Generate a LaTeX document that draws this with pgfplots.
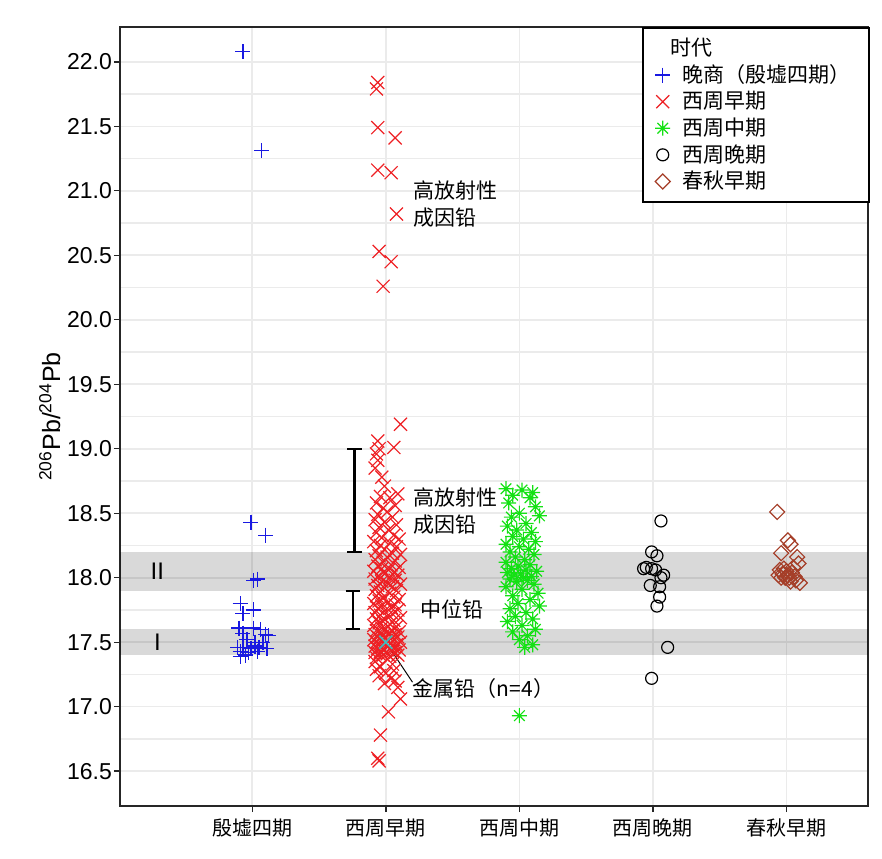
\documentclass[border=0pt]{standalone}
\usepackage{pgfplots}
\pgfplotsset{compat=1.18}
\usepackage{fontspec}
\setmainfont{Liberation Sans}
\newfontfamily\cjk{Noto Sans CJK SC}
\definecolor{cblue}{RGB}{25,25,225}
\definecolor{cred}{RGB}{238,32,36}
\definecolor{cgreen}{RGB}{20,225,20}
\definecolor{cbrown}{RGB}{165,62,40}
\definecolor{ccyan}{RGB}{64,190,190}
\definecolor{cgrid}{RGB}{235,235,235}
\pgfdeclareplotmark{ast8}{%
 \pgfpathmoveto{\pgfqpoint{-\pgfplotmarksize}{0pt}}\pgfpathlineto{\pgfqpoint{\pgfplotmarksize}{0pt}}%
 \pgfpathmoveto{\pgfqpoint{0pt}{-\pgfplotmarksize}}\pgfpathlineto{\pgfqpoint{0pt}{\pgfplotmarksize}}%
 \pgfpathmoveto{\pgfqpoint{-.7071\pgfplotmarksize}{-.7071\pgfplotmarksize}}\pgfpathlineto{\pgfqpoint{.7071\pgfplotmarksize}{.7071\pgfplotmarksize}}%
 \pgfpathmoveto{\pgfqpoint{-.7071\pgfplotmarksize}{.7071\pgfplotmarksize}}\pgfpathlineto{\pgfqpoint{.7071\pgfplotmarksize}{-.7071\pgfplotmarksize}}%
 \pgfusepathqstroke}
\begin{document}
\begin{tikzpicture}
\begin{axis}[
 scale only axis, width=374pt, height=389.5pt,
 xmin=-0.99, xmax=4.61, ymin=16.23, ymax=22.27,
 xtick={0,1,2,3,4},
 xticklabels={殷墟四期,西周早期,西周中期,西周晚期,春秋早期},
 xticklabel style={font=\cjk\fontsize{10}{12}\selectfont},
 ytick={16.5,17,17.5,18,18.5,19,19.5,20,20.5,21,21.5,22},
 yticklabels={16.5,17.0,17.5,18.0,18.5,19.0,19.5,20.0,20.5,21.0,21.5,22.0},
 yticklabel style={font=\fontsize{11.5}{13}\selectfont, xshift=2.5pt},
 minor y tick num=1,
 grid=both,
 major grid style={cgrid, line width=0.8pt},
 minor grid style={cgrid, line width=0.6pt},
 axis line style={black!85, line width=0.7pt},
 tick style={black!85, line width=0.7pt},
 major tick length=3pt, minor tick length=0pt,
 tick align=outside, xtick pos=lower, ytick pos=left,
 ylabel={\textsuperscript{206}Pb/\textsuperscript{204}Pb},
 ylabel style={font=\fontsize{12.5}{14}\selectfont, yshift=-3.5pt},
 legend style={at={(1.003,1)}, anchor=north east, draw=black, line width=1pt,
   font=\cjk\fontsize{10.5}{12}\selectfont, row sep=-1pt, column sep=4pt, inner xsep=1.5pt, inner ysep=3pt},
 legend cell align=left,
]
\fill[black, opacity=0.15] (-0.99,17.4) rectangle (4.61,17.6);
\fill[black, opacity=0.15] (-0.99,17.9) rectangle (4.61,18.2);
\addlegendimage{empty legend}\addlegendentry{\hspace*{-6pt}时代\rule[-5pt]{0pt}{5pt}}
\addplot[only marks, mark=+, mark size=3.75pt, cblue, line width=0.65pt] coordinates {
(-0.07,22.08) (0.07,21.31) (-0.01,18.43) (0.10,18.33) (0.01,17.98) (0.04,17.99)
(-0.09,17.80) (-0.07,17.72) (0.01,17.75) (-0.10,17.61) (0.01,17.61) (0.06,17.60)
(-0.07,17.57) (0.10,17.56) (0.12,17.55) (-0.04,17.52) (0.02,17.50) (-0.11,17.46)
(-0.07,17.46) (-0.01,17.45) (0.05,17.46) (0.11,17.45) (-0.09,17.43) (-0.03,17.42)
(0.04,17.43) (0.08,17.50) (-0.09,17.39) (-0.05,17.40) (0.02,17.47)
};
\addlegendentry{晚商（殷墟四期）\hspace*{6pt}}
\addplot[only marks, mark=x, mark size=4.6pt, cred, line width=0.6pt] coordinates {
(0.94,21.84) (0.93,21.79) (0.94,21.49) (1.07,21.41) (0.94,21.16) (1.04,21.14) (1.08,20.82) (0.95,20.53) (1.04,20.45) (0.98,20.26)
(1.11,19.19) (0.94,19.06) (1.06,19.01) (0.95,19.00) (0.93,18.96) (0.94,18.91) (0.92,18.85) (0.97,18.78) (0.99,18.71) (1.09,18.65)
(0.96,18.63) (1.03,18.62) (0.93,18.58) (1.07,18.56) (0.98,18.54) (1.01,18.51) (0.94,18.49) (1.05,18.47) (0.92,18.45) (0.99,18.43)
(1.08,18.41) (0.95,18.39) (1.02,18.37) (0.93,18.35) (1.06,18.33) (0.97,18.31) (1.10,18.30) (0.91,18.28) (1.03,18.27) (0.96,18.25)
(1.08,18.24) (0.99,18.22) (0.93,18.21) (1.05,18.19) (1.11,18.18) (0.95,18.17) (1.01,18.16) (0.92,18.14) (1.07,18.13) (0.98,18.12)
(1.04,18.10) (0.94,18.09) (1.10,18.08) (0.97,18.07) (1.02,18.06) (0.91,18.05) (1.06,18.04) (0.99,18.03) (1.09,18.02) (0.95,18.01)
(1.03,18.00) (0.92,17.99) (1.07,17.98) (0.97,17.97) (1.01,17.96) (1.11,17.95) (0.94,17.94) (1.05,17.93) (0.99,17.92) (0.92,17.91)
(1.08,17.90) (0.96,17.89) (1.03,17.88) (0.93,17.86) (1.06,17.85) (0.98,17.84) (1.10,17.83) (0.95,17.82) (1.02,17.81) (0.91,17.80)
(1.07,17.79) (0.97,17.78) (1.04,17.77) (0.94,17.76) (1.09,17.75) (0.99,17.74) (0.92,17.73) (1.05,17.72) (0.96,17.71) (1.01,17.70)
(1.11,17.69) (0.93,17.68) (1.06,17.67) (0.98,17.66) (0.95,17.65) (1.03,17.64) (0.91,17.63) (1.08,17.62) (0.97,17.61)
(1.00,17.60) (0.93,17.59) (1.05,17.59) (1.10,17.58) (0.96,17.58) (1.02,17.57) (0.92,17.56) (1.07,17.56) (0.98,17.55) (1.04,17.55)
(0.94,17.54) (1.09,17.54) (1.00,17.53) (0.95,17.53) (1.06,17.52) (0.91,17.52) (1.02,17.51) (0.97,17.51) (1.11,17.50) (0.93,17.50)
(1.04,17.49) (0.99,17.49) (1.08,17.48) (0.95,17.48) (1.01,17.47) (0.92,17.47) (1.06,17.46) (0.97,17.46) (1.03,17.45) (0.94,17.45)
(1.10,17.44) (0.99,17.44) (1.05,17.43) (0.96,17.43) (0.92,17.42) (1.07,17.42) (1.01,17.41) (0.95,17.41) (1.09,17.40) (0.98,17.40)
(1.03,17.39) (0.93,17.38)
(0.92,17.35) (1.05,17.33) (0.96,17.31) (0.93,17.29) (1.06,17.28) (1.00,17.26) (0.95,17.24) (1.04,17.22) (1.07,17.20) (0.99,17.18)
(1.09,17.15) (1.11,17.06) (1.02,16.96) (0.96,16.78) (0.94,16.60) (0.95,16.58)
};
\addlegendentry{西周早期}
\addplot[only marks, mark=ast8, mark size=3.75pt, cgreen, line width=0.6pt] coordinates {
(1.90,18.69) (2.02,18.68) (2.10,18.66) (1.95,18.64) (2.08,18.62) (1.92,18.58) (2.12,18.55) (2.00,18.50) (1.94,18.47) (2.15,18.48)
(2.05,18.42) (1.91,18.40) (1.98,18.37) (2.09,18.35) (1.95,18.32) (2.03,18.30) (2.12,18.28) (1.90,18.26) (2.00,18.24) (2.07,18.22)
(1.93,18.20) (2.11,18.18) (1.97,18.16) (2.04,18.14) (1.90,18.12) (2.08,18.10) (1.99,18.09) (1.94,18.07) (2.05,18.06) (2.13,18.05)
(1.91,18.04) (2.01,18.03) (1.96,18.02) (2.09,18.01) (2.03,18.00) (1.93,17.99) (2.06,17.98) (1.98,17.97) (2.11,17.95) (1.90,17.93)
(2.02,17.91) (2.14,17.88) (1.95,17.86) (2.08,17.83) (1.99,17.80) (2.15,17.78) (1.93,17.76) (2.05,17.73) (1.97,17.70) (2.10,17.68)
(1.91,17.66) (2.02,17.63) (2.12,17.60) (1.95,17.58) (2.06,17.55) (2.00,17.52) (2.10,17.48) (2.04,17.46) (2.00,16.93)
};
\addlegendentry{西周中期}
\addplot[only marks, mark=o, mark size=3pt, black, line width=0.6pt] coordinates {
(3.06,18.44) (2.99,18.20) (3.03,18.17) (2.93,18.07) (2.99,18.07) (3.02,18.06) (3.08,18.02) (3.06,18.00)
(2.98,17.94) (3.05,17.93) (3.05,17.85) (3.03,17.78) (3.11,17.46) (2.99,17.22) (2.95,18.08)
};
\addlegendentry{西周晚期}
\addplot[only marks, mark=square, mark size=2.65pt, mark options={rotate=45}, cbrown, line width=0.6pt] coordinates {
(3.93,18.51) (4.01,18.29) (4.03,18.26) (3.96,18.19) (4.08,18.16) (4.09,18.11) (3.95,18.06) (4.00,18.05) (3.97,18.03) (4.04,18.04)
(4.06,18.01) (4.02,18.00) (3.94,18.02) (3.99,18.00) (4.07,17.98) (4.10,17.96) (4.03,17.97) (3.98,18.07) (4.05,18.08) (3.96,18.00) (4.01,18.02)
};
\addlegendentry{春秋早期}
\addplot[only marks, mark=x, mark size=4.6pt, ccyan, line width=0.8pt, forget plot] coordinates {(1.0,17.5)};
\draw[black, line width=0.5pt] (1.0,17.5) -- (1.2,17.19);
\draw[black, line width=1.1pt] (0.71,19.0) -- (0.82,19.0) (0.765,19.0) -- (0.765,18.2) (0.71,18.2) -- (0.82,18.2);
\draw[black, line width=1.1pt] (0.70,17.9) -- (0.81,17.9) (0.755,17.9) -- (0.755,17.6) (0.70,17.6) -- (0.81,17.6);
\node[anchor=west, align=left, inner sep=0pt, font=\cjk\fontsize{10.5}{13.5}\selectfont] at (1.205,20.9) {高放射性\\成因铅};
\node[anchor=west, align=left, inner sep=0pt, font=\cjk\fontsize{10.5}{13.5}\selectfont] at (1.205,18.52) {高放射性\\成因铅};
\node[anchor=west, inner sep=0pt, font=\cjk\fontsize{10.5}{13.5}\selectfont] at (1.26,17.75) {中位铅};
\node[anchor=west, inner sep=0pt, font=\cjk\fontsize{10.5}{13.5}\selectfont] at (1.2,17.14) {金属铅（n=4）};
\node[font=\fontsize{12}{14}\selectfont] at (-0.71,17.5) {I};
\node[font=\fontsize{12}{14}\selectfont] at (-0.71,18.05) {II};
\end{axis}
\pgfresetboundingbox
\path[use as bounding box] ([xshift=-60pt,yshift=-26pt]current axis.south west) rectangle ([xshift=7pt,yshift=13.5pt]current axis.north east);
\end{tikzpicture}
\end{document}
